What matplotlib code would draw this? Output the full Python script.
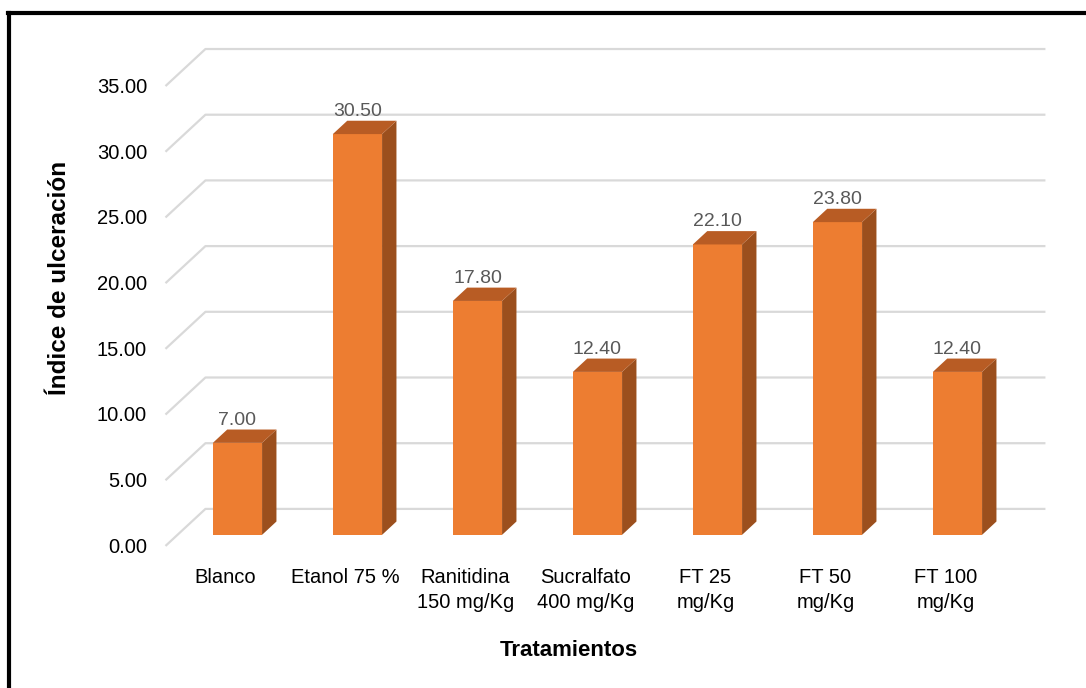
import numpy as np
import matplotlib
matplotlib.use('Agg')
import matplotlib.pyplot as plt
from matplotlib.patches import Polygon
from matplotlib.lines import Line2D

plt.rcParams['font.family'] = ['Liberation Sans', 'DejaVu Sans']

# Data
categories = ['Blanco', 'Etanol 75 %', 'Ranitidina\n150 mg/Kg', 'Sucralfato\n400 mg/Kg',
              'FT 25\nmg/Kg', 'FT 50\nmg/Kg', 'FT 100\nmg/Kg']
values = [7.00, 30.50, 17.80, 12.40, 22.10, 23.80, 12.40]
yticks = [0, 5, 10, 15, 20, 25, 30, 35]

# Oblique "3D" look: shift of the full floor depth, in data units
DX, DY = 0.333, 2.82
bar_d0 = 0.30   # depth of the bar front faces
bar_dd = 0.36   # depth of each bar
bar_w = 0.41

front_col = '#ED7D31'
side_col = '#9B4F1D'
top_col = '#B85C24'
grid_col = '#D9D9D9'

fig = plt.figure(figsize=(10.86, 6.88), dpi=100)
ax = fig.add_axes([0, 0, 1, 1])
ax.set_xlim(-1.879, 7.171)
ax.set_ylim(-10.81, 41.55)
ax.axis('off')

n = len(categories)
x = np.arange(n)

# Gridlines: diagonal on the side wall, then along the back wall
for v in yticks:
    ax.plot([-0.5, -0.5 + DX, n - 0.5 + DX], [v, v + DY, v + DY],
            color=grid_col, lw=1.6, zorder=1, solid_capstyle='butt')
    ax.text(-0.654, v - 0.1, f'{v:.2f}', ha='right', va='center', fontsize=14.5, color='black')

# Bars
y0 = bar_d0 * DY
xc = x + bar_d0 * DX
ax.bar(xc, values, width=bar_w, bottom=y0, color=front_col, zorder=3)
bdx, bdy = bar_dd * DX, bar_dd * DY
for xi, v in zip(xc, values):
    xl = xi - bar_w / 2
    xr = xi + bar_w / 2
    side = [(xr, y0), (xr + bdx, y0 + bdy), (xr + bdx, y0 + bdy + v), (xr, y0 + v)]
    top = [(xl, y0 + v), (xl + bdx, y0 + v + bdy), (xr + bdx, y0 + v + bdy), (xr, y0 + v)]
    ax.add_patch(Polygon(side, closed=True, facecolor=side_col, edgecolor='none', zorder=3))
    ax.add_patch(Polygon(top, closed=True, facecolor=top_col, edgecolor='none', zorder=3))
    ax.text(xi, y0 + v + bdy + 0.38, f'{v:.2f}', ha='center', va='baseline',
            fontsize=14, color='#595959', zorder=4)

# Category labels
for xi, lab in zip(x, categories):
    ax.text(xi, -1.7, lab, ha='center', va='top', fontsize=14.5,
            linespacing=1.35, multialignment='center')

# Axis titles
ax.text(2.86, -7.99, 'Tratamientos', ha='center', va='center',
        fontsize=16, fontweight='bold')
ax.text(-1.38, 20.4, 'Índice de ulceración', ha='center', va='center',
        rotation=90, fontsize=17.5, fontweight='bold')

# Outer frame (left and top edges visible)
fig.add_artist(Line2D([9 / 1086, 9 / 1086], [0, 1 - 12.5 / 688],
                      transform=fig.transFigure, color='black', lw=3))
fig.add_artist(Line2D([7.9 / 1086, 1], [1 - 12.5 / 688, 1 - 12.5 / 688],
                      transform=fig.transFigure, color='black', lw=3))

fig.savefig('out.png', dpi=100)
